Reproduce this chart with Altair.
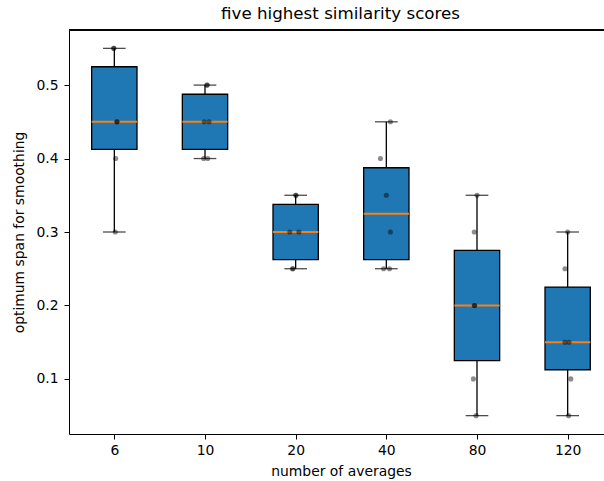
import altair as alt
import numpy as np
import pandas as pd

categories = ["6", "10", "20", "40", "80", "120"]

span_6 = [0.55, 0.55, 0.45, 0.45, 0.40, 0.30]
span_10 = [0.50, 0.50, 0.45, 0.45, 0.40, 0.40]
span_20 = [0.35, 0.35, 0.30, 0.30, 0.25, 0.25]
span_40 = [0.45, 0.40, 0.35, 0.30, 0.25, 0.25]
span_80 = [0.35, 0.30, 0.20, 0.20, 0.10, 0.05]
span_120 = [0.30, 0.25, 0.15, 0.15, 0.10, 0.05]

jitter_6 = [-0.008, -0.004, 0.03, 0.028, 0.015, 0.01]
jitter_10 = [0.02, 0.025, -0.008, 0.045, -0.015, 0.03]
jitter_20 = [0.0, 0.005, -0.065, 0.035, -0.035, -0.03]
jitter_40 = [0.045, -0.065, 0.0, 0.045, -0.03, 0.035]
jitter_80 = [0.0, -0.03, -0.03, -0.025, -0.04, -0.01]
jitter_120 = [0.0, -0.03, -0.03, 0.015, 0.035, 0.01]

spans = [span_6, span_10, span_20, span_40, span_80, span_120]
jitters = [jitter_6, jitter_10, jitter_20, jitter_40, jitter_80, jitter_120]

rows = []
for i, (cat, sp, jt) in enumerate(zip(categories, spans, jitters)):
    for v, j in zip(sp, jt):
        rows.append({"group": cat, "pos": i + 1 + j, "span": v})
points = pd.DataFrame(rows)

stats = pd.DataFrame([
    {
        "group": cat,
        "pos": i + 1,
        "left": i + 1 - 0.25,
        "right": i + 1 + 0.25,
        "lo": float(np.min(sp)),
        "q1": float(np.percentile(sp, 25)),
        "med": float(np.percentile(sp, 50)),
        "q3": float(np.percentile(sp, 75)),
        "hi": float(np.max(sp)),
    }
    for i, (cat, sp) in enumerate(zip(categories, spans))
])

FONT = "DejaVu Sans"
RANGE_W = 544
STEP = RANGE_W / 6

label_expr = "[" + ",".join("'" + c + "'" for c in categories) + "][datum.value - 1]"

xscale = alt.Scale(domain=[0.5, 6.5], range=[0, RANGE_W], nice=False, zero=False)
yscale = alt.Scale(domain=[0.025, 0.575], nice=False, zero=False)

x_axis = alt.Axis(title="number of averages", values=[1, 2, 3, 4, 5, 6], labelExpr=label_expr,
                  labelAngle=0, tickSize=5, labelPadding=4, titlePadding=8, grid=False,
                  domainColor="black", tickColor="black", labelColor="black",
                  titleColor="black", labelFontSize=13.9, titleFontSize=13.9,
                  titleFontWeight="normal", labelFont=FONT, titleFont=FONT)
y_axis = alt.Axis(title="optimum span for smoothing", values=[0.1, 0.2, 0.3, 0.4, 0.5],
                  format=".1f", grid=False, tickSize=5, labelPadding=6, titlePadding=9,
                  domainColor="black", tickColor="black", labelColor="black",
                  titleColor="black", labelFontSize=13.9, titleFontSize=13.9,
                  titleFontWeight="normal", labelFont=FONT, titleFont=FONT)

base = alt.Chart(stats)

whisker = base.mark_rule(color="black", strokeWidth=1.3).encode(
    x=alt.X("pos:Q", scale=xscale, axis=x_axis),
    y=alt.Y("lo:Q", scale=yscale, axis=y_axis),
    y2="hi:Q",
)
box = base.mark_rect(color="#1f77b4", stroke="black", strokeWidth=1.3).encode(
    x=alt.X("left:Q", scale=xscale),
    x2="right:Q",
    y=alt.Y("q1:Q", scale=yscale),
    y2="q3:Q",
)
cap_lo = base.mark_tick(color="black", size=STEP * 0.25, thickness=1.3, orient="horizontal").encode(
    x=alt.X("pos:Q", scale=xscale),
    y=alt.Y("lo:Q", scale=yscale),
)
cap_hi = base.mark_tick(color="black", size=STEP * 0.25, thickness=1.3, orient="horizontal").encode(
    x=alt.X("pos:Q", scale=xscale),
    y=alt.Y("hi:Q", scale=yscale),
)
median = base.mark_rule(color="#ff7f0e", strokeWidth=2).encode(
    x=alt.X("left:Q", scale=xscale),
    x2="right:Q",
    y=alt.Y("med:Q", scale=yscale),
)
dots = alt.Chart(points).mark_circle(color="black", opacity=0.45, size=26).encode(
    x=alt.X("pos:Q", scale=xscale),
    y=alt.Y("span:Q", scale=yscale),
)
top_spine = alt.Chart(stats).mark_rule(color="black", strokeWidth=1).encode(
    x=alt.value(0), x2=alt.value(RANGE_W), y=alt.value(0)
)

chart = alt.layer(whisker, box, cap_lo, cap_hi, median, dots, top_spine).properties(
    width=535,
    height=404,
    autosize=alt.AutoSizeParams(type="none"),
    padding={"left": 69, "top": 30, "right": 0, "bottom": 47},
    title=alt.TitleParams("five highest similarity scores", fontSize=16.7, fontWeight="normal",
                          font=FONT, color="black", frame="group", dx=4, offset=7),
).configure_view(stroke=None).configure(background="white")

chart.save("out.html", embed_options={"renderer": "svg", "actions": False})
